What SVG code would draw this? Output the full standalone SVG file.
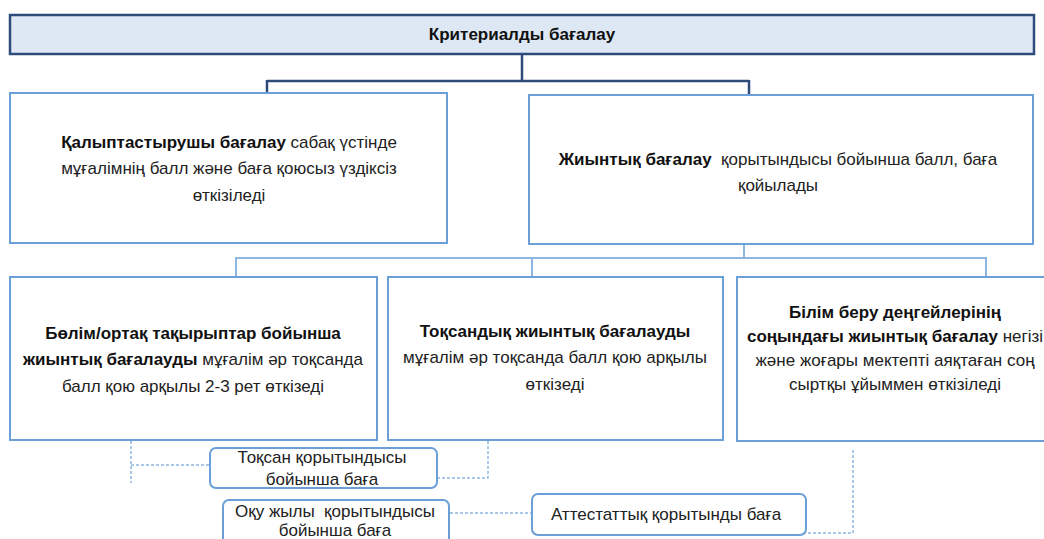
<svg xmlns="http://www.w3.org/2000/svg" width="1044" height="539" viewBox="0 0 1044 539">
<style>
.t{font-family:"Liberation Sans",Arial,sans-serif;font-size:17px;fill:#222;text-anchor:middle}
.b{font-weight:bold;fill:#111}
.box{fill:#fff;stroke:#6a9fd8;stroke-width:2}
.rbox{fill:#fff;stroke:#6a9fd8;stroke-width:2}
.main{stroke:#2f4b7c;stroke-width:2.5;fill:none}
.sub{stroke:#8db6e4;stroke-width:2;fill:none}
.dash{stroke:#8db6e4;stroke-width:1.5;fill:none;stroke-dasharray:3 2}
</style>
<rect width="1044" height="539" fill="#fff"/>
<g id="connectors">
<path class="main" d="M522 54V81M267 81H749M267 80V92M749 80V95"/>
<path class="sub" d="M744 244V258M235 258H986M236 257V277M532 257V277M986 257V277"/>
<path class="dash" d="M131 441V483M131 465H210"/>
<path class="dash" d="M488 441V478H412"/>
<path class="dash" d="M430 513H532"/>
<path class="dash" d="M853 450V533H767"/>
<path class="sub" stroke-width="1" d="M314 500V539"/>
</g>
<g id="n0">
<rect x="10" y="15" width="1024" height="39" fill="#dde8f4" stroke="#2f4b7c" stroke-width="2.5"/>
<text class="t b" x="522" y="40" font-size="18.5">Критериалды бағалау</text>
</g>
<g id="n1">
<rect class="box" x="10" y="93" width="437" height="150"/>
<text class="t" x="229" y="148"><tspan class="b">Қалыптастырушы бағалау</tspan> сабақ үстінде</text>
<text class="t" x="229" y="174">мұғалімнің балл және баға қоюсыз үздіксіз</text>
<text class="t" x="229" y="201">өткізіледі</text>
</g>
<g id="n2">
<rect class="box" x="529" y="95" width="504" height="149"/>
<text class="t" x="778" y="165" xml:space="preserve"><tspan class="b">Жиынтық бағалау</tspan>  қорытындысы бойынша балл, баға</text>
<text class="t" x="778" y="191">қойылады</text>
</g>
<g id="n3">
<rect class="box" x="10" y="277" width="367" height="163"/>
<text class="t b" x="193" y="339">Бөлім/ортақ тақырыптар бойынша</text>
<text class="t" x="193" y="365"><tspan class="b">жиынтық бағалауды</tspan> мұғалім әр тоқсанда</text>
<text class="t" x="193" y="392">балл қою арқылы 2-3 рет өткізеді</text>
</g>
<g id="n4">
<rect class="box" x="388" y="277" width="335" height="163"/>
<text class="t b" x="555" y="337">Тоқсандық жиынтық бағалауды</text>
<text class="t" x="555" y="363">мұғалім әр тоқсанда балл қою арқылы</text>
<text class="t" x="555" y="390">өткізеді</text>
</g>
<g id="n5">
<rect class="box" x="737" y="277" width="320" height="164"/>
<text class="t b" x="895" y="318">Білім беру деңгейлерінің</text>
<text class="t" x="895" y="342"><tspan class="b">соңындағы жиынтық бағалау</tspan> негізі</text>
<text class="t" x="895" y="366">және жоғары мектепті аяқтаған соң</text>
<text class="t" x="895" y="390">сыртқы ұйыммен өткізіледі</text>
</g>
<g id="n6">
<rect class="rbox" x="210" y="448" width="227" height="40" rx="6"/>
<text class="t" x="322" y="463">Тоқсан қорытындысы</text>
<text class="t" x="322" y="485">бойынша баға</text>
</g>
<g id="n7">
<rect class="rbox" x="223" y="500" width="226" height="48" rx="6"/>
<text class="t" x="335" y="517" xml:space="preserve">Оқу жылы  қорытындысы</text>
<text class="t" x="335" y="536">бойынша баға</text>
</g>
<g id="n8">
<rect class="rbox" x="532" y="494" width="274" height="41" rx="6"/>
<text class="t" x="666" y="520" font-size="16.5">Аттестаттық қорытынды баға</text>
</g>
</svg>
